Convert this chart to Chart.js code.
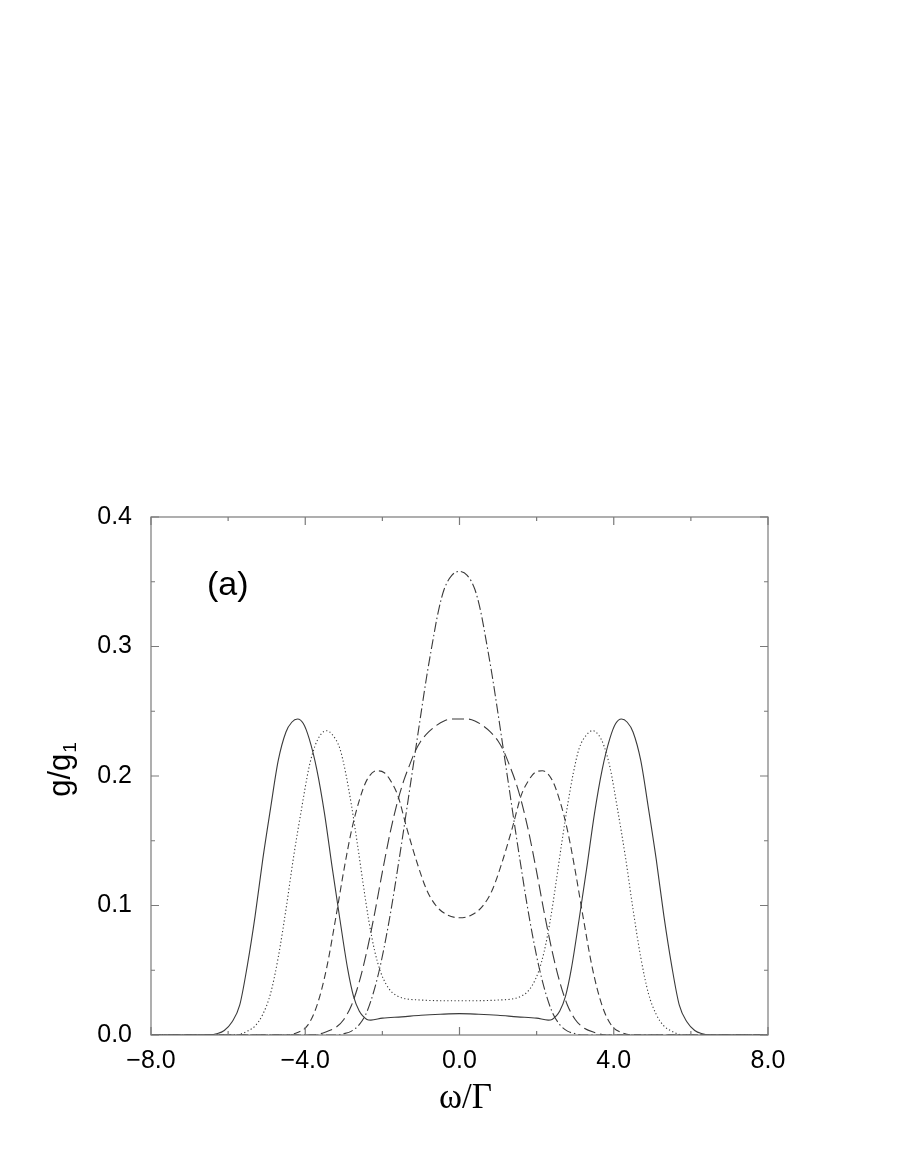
<!DOCTYPE html>
<html>
<head>
<meta charset="utf-8">
<script src="https://cdn.jsdelivr.net/npm/chart.js@4/dist/chart.umd.min.js"></script>
<style>
  html, body { margin: 0; padding: 0; background: #ffffff; }
  #wrap { width: 900px; height: 1164px; }
</style>
</head>
<body>
<div id="wrap"><canvas id="c" width="900" height="1164"></canvas></div>
<script>
// ---- data ----
const solidX = [-8,-6.5,-6.3,-6.1,-5.9,-5.7,-5.5,-5.3,-5.1,-4.9,-4.7,-4.5,-4.35,-4.2,-4.05,-3.9,-3.7,-3.5,-3.3,-3.1,-2.9,-2.75,-2.6,-2.5,-2.4,-2.3,-2.0,-1.5,-1.0,-0.5,0,0.5,1.0,1.5,2.0,2.3,2.4,2.5,2.6,2.75,2.9,3.1,3.3,3.5,3.7,3.9,4.05,4.2,4.35,4.5,4.7,4.9,5.1,5.3,5.5,5.7,5.9,6.1,6.3,6.5,8];
const solidY = [0,0,0.001,0.0035,0.010,0.023,0.054,0.092,0.136,0.175,0.212,0.234,0.2415,0.244,0.2405,0.229,0.205,0.171,0.129,0.089,0.051,0.030,0.0185,0.0145,0.012,0.0115,0.013,0.014,0.0152,0.016,0.0165,0.016,0.0152,0.014,0.013,0.0115,0.012,0.0145,0.0185,0.030,0.051,0.089,0.129,0.171,0.205,0.229,0.2405,0.244,0.2415,0.234,0.212,0.175,0.136,0.092,0.054,0.023,0.010,0.0035,0.001,0,0];

const dotX = [-8,-5.8,-5.5,-5.3,-5.1,-4.9,-4.7,-4.5,-4.3,-4.1,-3.9,-3.75,-3.6,-3.45,-3.3,-3.1,-2.95,-2.8,-2.65,-2.5,-2.35,-2.2,-2.05,-1.9,-1.75,-1.6,-1.4,-1.0,-0.5,0,0.5,1.0,1.4,1.6,1.75,1.9,2.05,2.2,2.35,2.5,2.65,2.8,2.95,3.1,3.3,3.45,3.6,3.75,3.9,4.1,4.3,4.5,4.7,4.9,5.1,5.3,5.5,5.8,8];
const dotY = [0,0,0.003,0.007,0.016,0.032,0.060,0.097,0.138,0.174,0.207,0.223,0.232,0.235,0.232,0.221,0.202,0.177,0.148,0.117,0.088,0.065,0.049,0.039,0.033,0.030,0.028,0.027,0.0265,0.0265,0.0265,0.027,0.028,0.030,0.033,0.039,0.049,0.065,0.088,0.117,0.148,0.177,0.202,0.221,0.232,0.235,0.232,0.223,0.207,0.174,0.138,0.097,0.060,0.032,0.016,0.007,0.003,0,0];

const shortDashX = [-8,-4.5,-4.2,-3.95,-3.7,-3.45,-3.2,-3.0,-2.8,-2.6,-2.4,-2.15,-1.95,-1.8,-1.6,-1.37,-1.1,-0.85,-0.6,-0.3,0,0.3,0.6,0.85,1.1,1.37,1.6,1.8,1.95,2.15,2.4,2.6,2.8,3.0,3.2,3.45,3.7,3.95,4.2,4.5,8];
const shortDashY = [0,0,0.002,0.007,0.0225,0.051,0.092,0.127,0.158,0.181,0.197,0.204,0.2025,0.197,0.185,0.160,0.133,0.112,0.0995,0.0925,0.0905,0.0925,0.0995,0.112,0.133,0.160,0.185,0.197,0.2025,0.204,0.197,0.181,0.158,0.127,0.092,0.051,0.0225,0.007,0.002,0,0];

const longDashX = [-8,-3.8,-3.5,-3.2,-3.0,-2.8,-2.6,-2.4,-2.2,-2.0,-1.8,-1.6,-1.45,-1.3,-1.15,-1.0,-0.8,-0.6,-0.4,-0.2,0,0.2,0.4,0.6,0.8,1.0,1.15,1.3,1.45,1.6,1.8,2.0,2.2,2.4,2.6,2.8,3.0,3.2,3.5,3.8,8];
const longDashY = [0,0,0.002,0.006,0.012,0.023,0.041,0.065,0.094,0.126,0.156,0.181,0.196,0.208,0.219,0.227,0.234,0.239,0.2425,0.244,0.244,0.244,0.2425,0.239,0.234,0.227,0.219,0.208,0.196,0.181,0.156,0.126,0.094,0.065,0.041,0.023,0.012,0.006,0.002,0,0];

const dashDotX = [-8,-3.2,-3.0,-2.8,-2.6,-2.4,-2.2,-2.05,-1.9,-1.75,-1.6,-1.45,-1.3,-1.15,-1.0,-0.85,-0.7,-0.55,-0.4,-0.2,0,0.2,0.4,0.55,0.7,0.85,1.0,1.15,1.3,1.45,1.6,1.75,1.9,2.05,2.2,2.4,2.6,2.8,3.0,3.2,8];
const dashDotY = [0,0,0.001,0.003,0.008,0.018,0.036,0.054,0.076,0.101,0.129,0.158,0.188,0.218,0.248,0.277,0.303,0.327,0.344,0.355,0.358,0.355,0.344,0.327,0.303,0.277,0.248,0.218,0.188,0.158,0.129,0.101,0.076,0.054,0.036,0.018,0.008,0.003,0.001,0,0];

const xMinorTicks = [-6,-2,2,6];
const yMinorTicks = [0.05,0.15,0.25,0.35];
const panelLabel = "(a)";
const xTitle = "ω/Γ";
const yTitleMain = "g/g";
const yTitleSub = "1";

// ---- build datasets ----
function pts(xs, ys) { return xs.map((x, i) => ({ x: x, y: ys[i] })); }
const lineColor = '#3a3a3a';
function ds(xs, ys, dash) {
  return {
    data: pts(xs, ys),
    showLine: true,
    borderColor: lineColor,
    borderWidth: 1.1,
    borderDash: dash,
    pointRadius: 0,
    pointHoverRadius: 0,
    cubicInterpolationMode: 'monotone',
    fill: false
  };
}

const FONT = '"Liberation Sans", Arial, Helvetica, sans-serif';
const frameColor = '#7a7a7a';

const framePlugin = {
  id: 'frame',
  afterDatasetsDraw(chart) {
    const ctx = chart.ctx;
    const a = chart.chartArea;
    const xs = chart.scales.x, ys = chart.scales.y;
    ctx.save();
    ctx.strokeStyle = frameColor;
    ctx.lineWidth = 1.2;
    ctx.strokeRect(a.left, a.top, a.right - a.left, a.bottom - a.top);
    const major = 8, minor = 4;
    ctx.beginPath();
    xs.ticks.forEach(t => {
      const px = xs.getPixelForValue(t.value);
      ctx.moveTo(px, a.bottom); ctx.lineTo(px, a.bottom - major);
      ctx.moveTo(px, a.top); ctx.lineTo(px, a.top + major);
    });
    xMinorTicks.forEach(v => {
      const px = xs.getPixelForValue(v);
      ctx.moveTo(px, a.bottom); ctx.lineTo(px, a.bottom - minor);
      ctx.moveTo(px, a.top); ctx.lineTo(px, a.top + minor);
    });
    ys.ticks.forEach(t => {
      const py = ys.getPixelForValue(t.value);
      ctx.moveTo(a.left, py); ctx.lineTo(a.left + major, py);
      ctx.moveTo(a.right, py); ctx.lineTo(a.right - major, py);
    });
    yMinorTicks.forEach(v => {
      const py = ys.getPixelForValue(v);
      ctx.moveTo(a.left, py); ctx.lineTo(a.left + minor, py);
      ctx.moveTo(a.right, py); ctx.lineTo(a.right - minor, py);
    });
    ctx.stroke();
    ctx.restore();
  },
  afterDraw(chart) {
    const ctx = chart.ctx;
    const a = chart.chartArea;
    ctx.save();
    ctx.fillStyle = '#000';
    // panel label
    ctx.font = '34px ' + FONT;
    ctx.textAlign = 'left';
    ctx.textBaseline = 'alphabetic';
    ctx.fillText(panelLabel, 207, 595);
    // x title
    ctx.font = '35px "Liberation Serif", "Times New Roman", serif';
    ctx.textAlign = 'center';
    ctx.fillText(xTitle, (a.left + a.right) / 2 + 6, 1108);
    // y title rotated with subscript
    ctx.translate(70, (a.top + a.bottom) / 2 - 6);
    ctx.rotate(-Math.PI / 2);
    ctx.textAlign = 'left';
    ctx.font = '31px ' + FONT;
    const w1 = ctx.measureText(yTitleMain).width;
    ctx.font = '19px ' + FONT;
    const w2 = ctx.measureText(yTitleSub).width;
    const start = -(w1 + w2) / 2;
    ctx.font = '31px ' + FONT;
    ctx.fillText(yTitleMain, start, 0);
    ctx.font = '19px ' + FONT;
    ctx.fillText(yTitleSub, start + w1 + 1, 6);
    ctx.restore();
  }
};

function fmt(v) {
  return Number(v).toFixed(1).replace('-', '\u2212');
}

new Chart(document.getElementById('c'), {
  type: 'scatter',
  data: {
    datasets: [
      ds(solidX, solidY, []),
      ds(dotX, dotY, [1.2, 2.4]),
      ds(shortDashX, shortDashY, [7, 4]),
      ds(longDashX, longDashY, [12, 5]),
      ds(dashDotX, dashDotY, [10, 3, 1.5, 3])
    ]
  },
  options: {
    responsive: false,
    animation: false,
    events: [],
    layout: { padding: { top: 517, right: 132, left: 0, bottom: 0 } },
    plugins: { legend: { display: false }, tooltip: { enabled: false } },
    scales: {
      x: {
        type: 'linear',
        min: -8, max: 8,
        grid: { display: false, drawTicks: false },
        border: { display: false },
        ticks: {
          stepSize: 4,
          padding: 11,
          color: '#000',
          font: { family: FONT, size: 25 },
          maxRotation: 0,
          callback: (v) => fmt(v)
        },
        afterFit(scale) { scale.height = 129; }
      },
      y: {
        type: 'linear',
        min: 0, max: 0.4,
        grid: { display: false, drawTicks: false },
        border: { display: false },
        ticks: {
          stepSize: 0.1,
          padding: 19,
          color: '#000',
          font: { family: FONT, size: 25 },
          callback: (v) => fmt(v)
        },
        afterFit(scale) { scale.width = 151; }
      }
    }
  },
  plugins: [framePlugin]
});
</script>
</body>
</html>
